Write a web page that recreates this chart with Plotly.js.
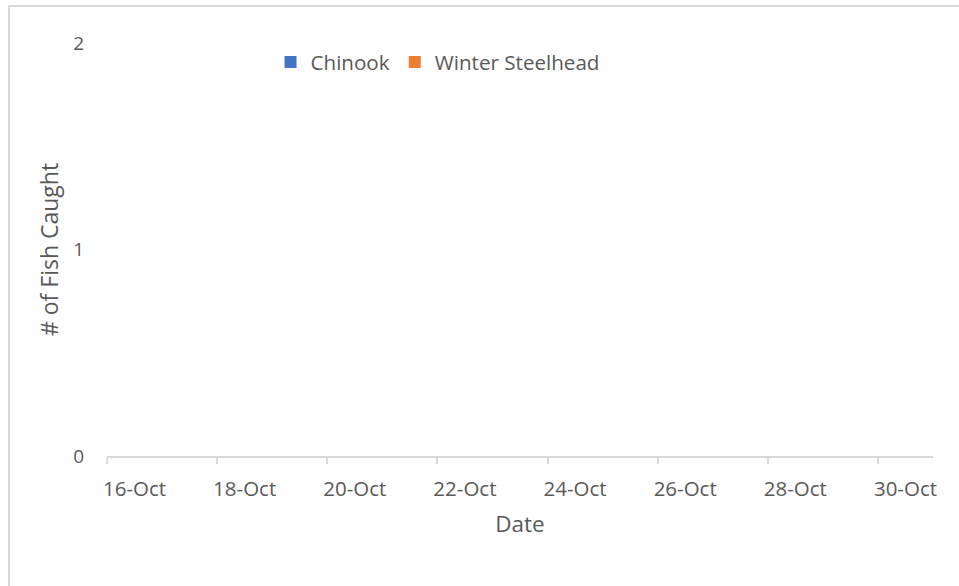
<!DOCTYPE html>
<html>
<head>
<meta charset="utf-8">
<script src="https://cdn.plot.ly/plotly-3.0.1.min.js"></script>
<style>
  html, body { margin: 0; padding: 0; overflow: hidden; background: #fff; }
  #chart { width: 959px; height: 586px; position: absolute; left: 0; top: 0; }
  #frame { position: absolute; left: 8px; top: 5px; width: 2000px; height: 2000px;
           border: 2px solid #d9d9d9; pointer-events: none; }
</style>
</head>
<body>
<div id="chart"></div>
<div id="frame"></div>
<script>
// Data (all catches are zero)
const categories = ['16-Oct','17-Oct','18-Oct','19-Oct','20-Oct','21-Oct','22-Oct','23-Oct',
                    '24-Oct','25-Oct','26-Oct','27-Oct','28-Oct','29-Oct','30-Oct'];
const chinook          = [0,0,0,0,0,0,0,0,0,0,0,0,0,0,0];
const winterSteelhead  = [0,0,0,0,0,0,0,0,0,0,0,0,0,0,0];
const yTickValues      = [0, 1, 2];

const idx = categories.map((_, i) => i);
const labelIdx = idx.filter(i => i % 2 === 0);
const labelText = labelIdx.map(i => categories[i]);
const boundaryIdx = labelIdx.map(i => i - 0.5);

const grey = '#595959';
const lineGrey = '#d9d9d9';
const fam = '"Open Sans", "Noto Sans", sans-serif';

const traces = [
  { type: 'bar', name: 'Chinook', x: idx, y: chinook, marker: { color: '#4472C4' } },
  { type: 'bar', name: 'Winter Steelhead', x: idx, y: winterSteelhead, marker: { color: '#ED7D31' } }
];

const layout = {
  width: 959, height: 586,
  margin: { l: 107, r: 26, t: 43, b: 130 },
  paper_bgcolor: '#ffffff', plot_bgcolor: '#ffffff',
  font: { family: fam, color: grey },
  barmode: 'group',
  showlegend: true,
  legend: {
    orientation: 'h', x: 0.198, xanchor: 'left', y: 0.954, yanchor: 'middle',
    font: { family: fam, size: 20.6, color: grey }, bgcolor: 'rgba(0,0,0,0)'
  },
  xaxis: {
    type: 'linear', range: [-0.5, 14.5], fixedrange: true,
    tickmode: 'array', tickvals: labelIdx, ticktext: labelText,
    ticks: 'outside', ticklen: 13, tickcolor: 'rgba(0,0,0,0)',
    tickfont: { family: fam, size: 20.5, color: grey },
    showline: true, linecolor: lineGrey, linewidth: 2,
    showgrid: false, zeroline: false, automargin: false,
    minor: { tickmode: 'array', tickvals: boundaryIdx, ticks: 'outside', ticklen: 6,
             tickcolor: lineGrey, tickwidth: 2, showgrid: false },
    title: { text: 'Date', font: { family: fam, size: 22.5, color: grey }, standoff: 16 }
  },
  yaxis: {
    range: [0, 2], fixedrange: true,
    tickmode: 'array', tickvals: yTickValues, ticktext: yTickValues.map(String),
    ticks: 'outside', ticklen: 18, tickcolor: 'rgba(0,0,0,0)',
    tickfont: { family: fam, size: 19, color: grey },
    showline: false, showgrid: false, zeroline: false, automargin: false,
    title: { text: '# of Fish Caught', font: { family: fam, size: 23, color: grey }, standoff: 8 }
  }
};

Plotly.newPlot('chart', traces, layout, { displayModeBar: false, staticPlot: true });
</script>
</body>
</html>
